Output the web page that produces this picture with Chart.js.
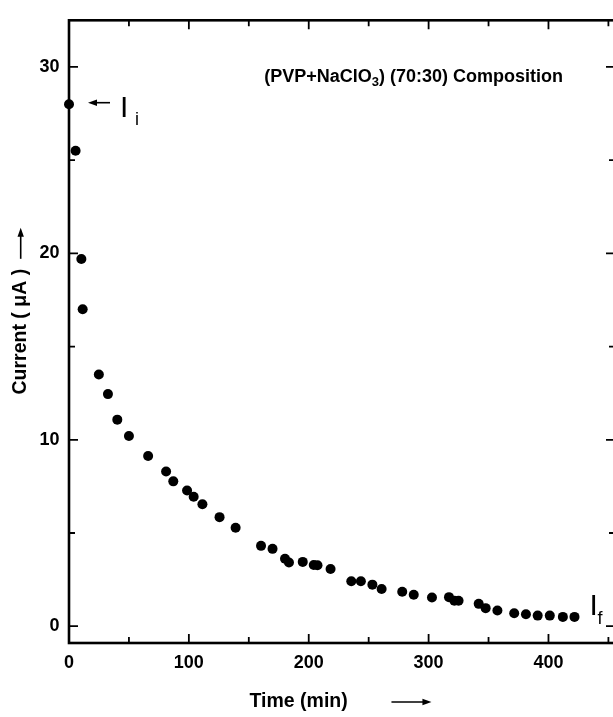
<!DOCTYPE html>
<html><head><meta charset="utf-8">
<script src="https://cdn.jsdelivr.net/npm/chart.js@4"></script>
<style>html,body{margin:0;padding:0;background:#fff;overflow:hidden;} canvas{display:block;}</style>
</head><body>
<canvas id="c" width="630" height="717"></canvas>
<script>
const timeMin = [0, 5.5, 10.3, 11.4, 24.9, 32.5, 40.3, 50, 66, 81, 87, 98.5, 104, 111.3, 125.6, 139, 160.2, 169.8, 180.2, 183.5, 195, 204.2, 207.3, 218.2, 235.5, 243.5, 253.1, 260.8, 278, 287.6, 302.8, 317, 321.5, 325, 341.8, 347.6, 357.4, 371.4, 381.2, 391, 401.1, 412, 421.7];
const currentMicroA = [28.0, 25.5, 19.7, 17.0, 13.5, 12.45, 11.08, 10.2, 9.13, 8.3, 7.77, 7.28, 6.94, 6.54, 5.85, 5.28, 4.31, 4.15, 3.62, 3.42, 3.45, 3.28, 3.27, 3.07, 2.41, 2.41, 2.23, 2.0, 1.85, 1.69, 1.54, 1.56, 1.37, 1.37, 1.2, 0.97, 0.84, 0.7, 0.64, 0.57, 0.57, 0.5, 0.5];
const xMajorTicks = [0, 100, 200, 300, 400];
const xMinorTicks = [50, 150, 250, 350, 450];
const yMajorTicks = [0, 10, 20, 30];
const yMinorTicks = [5, 15, 25];
const xTitle = 'Time (min)';
const yTitle = 'Current ( \u03bcA )';
const noteParts = ['(PVP+NaClO', '3', ') (70:30) Composition'];
const initialLabel = ['I', 'i'];
const finalLabel = ['I', 'f'];

const FAM = '"Liberation Sans", Arial, sans-serif';
const TITLE_SIZE = 19.5;
const tickFont = {family: FAM, size: 18, weight: 'bold'};
const titleFont = {family: FAM, size: TITLE_SIZE, weight: 'bold'};
const NB = '\u00a0';

function arrow(ctx, x1, y1, x2, y2) {
  const ang = Math.atan2(y2 - y1, x2 - x1);
  const hl = 9, hw = 3.2;
  ctx.save();
  ctx.strokeStyle = '#000'; ctx.fillStyle = '#000'; ctx.lineWidth = 1.6;
  ctx.beginPath();
  ctx.moveTo(x1, y1);
  ctx.lineTo(x2 - Math.cos(ang) * (hl - 2), y2 - Math.sin(ang) * (hl - 2));
  ctx.stroke();
  ctx.beginPath();
  ctx.moveTo(x2, y2);
  ctx.lineTo(x2 - Math.cos(ang) * hl - Math.sin(ang) * hw, y2 - Math.sin(ang) * hl + Math.cos(ang) * hw);
  ctx.lineTo(x2 - Math.cos(ang) * hl + Math.sin(ang) * hw, y2 - Math.sin(ang) * hl - Math.cos(ang) * hw);
  ctx.closePath();
  ctx.fill();
  ctx.restore();
}

const framePlugin = {
  id: 'frame',
  beforeDatasetsDraw(chart) {
    const {ctx, chartArea: a, scales: {x, y}} = chart;
    ctx.save();
    ctx.strokeStyle = '#000';
    ctx.lineWidth = 2.6;
    ctx.strokeRect(a.left, a.top, a.right - a.left, a.bottom - a.top);
    ctx.lineWidth = 1.8;
    ctx.beginPath();
    const tick = (vals, len) => {
      vals.forEach(v => {
        const px = x.getPixelForValue(v);
        if (px < a.left - 0.5 || px > a.right + 0.5) return;
        ctx.moveTo(px, a.bottom); ctx.lineTo(px, a.bottom - len);
        ctx.moveTo(px, a.top); ctx.lineTo(px, a.top + len);
      });
    };
    const ytick = (vals, len) => {
      vals.forEach(v => {
        const py = y.getPixelForValue(v);
        ctx.moveTo(a.left, py); ctx.lineTo(a.left + len, py);
        ctx.moveTo(a.right, py); ctx.lineTo(a.right - len, py);
      });
    };
    tick(xMajorTicks, 9); tick(xMinorTicks, 6);
    ytick(yMajorTicks, 9); ytick(yMinorTicks, 6);
    ctx.stroke();
    ctx.restore();
  },
  afterDraw(chart) {
    const {ctx, chartArea: a, scales: {x, y}} = chart;
    const pts = chart.getDatasetMeta(0).data;
    ctx.save();
    ctx.fillStyle = '#000';
    ctx.textBaseline = 'alphabetic';
    const big = 'bold 18px ' + FAM, small = 'bold 13px ' + FAM;
    ctx.font = big; const w0 = ctx.measureText(noteParts[0]).width, w2 = ctx.measureText(noteParts[2]).width;
    ctx.font = small; const w1 = ctx.measureText(noteParts[1]).width;
    const right = a.right - 52, base = 82;
    let sx = right - (w0 + w1 + w2);
    ctx.font = big; ctx.fillText(noteParts[0], sx, base); sx += w0;
    ctx.font = small; ctx.fillText(noteParts[1], sx, base + 4); sx += w1;
    ctx.font = big; ctx.fillText(noteParts[2], sx, base);
    const p0 = pts[0];
    arrow(ctx, p0.x + 41, p0.y - 1.5, p0.x + 19, p0.y - 1.5);
    ctx.font = '30px ' + FAM; ctx.fillText(initialLabel[0], p0.x + 51, p0.y + 13);
    ctx.font = '18px ' + FAM; ctx.fillText(initialLabel[1], p0.x + 66, p0.y + 21);
    const pl = pts[pts.length - 1];
    ctx.font = '30px ' + FAM; ctx.fillText(finalLabel[0], pl.x + 15, pl.y - 2);
    ctx.font = '18px ' + FAM; ctx.fillText(finalLabel[1], pl.x + 23, pl.y + 7);
    ctx.font = 'bold ' + TITLE_SIZE + 'px ' + FAM;
    const lh = TITLE_SIZE * 1.2;
    const xc = (x.left + x.right) / 2;
    const fullW = ctx.measureText(x.options.title.text).width;
    const xEnd = xc + fullW / 2 - 3;
    const xTy = x.bottom - lh / 2 - 3.3;
    arrow(ctx, xEnd - 40, xTy, xEnd, xTy);
    const yc = (y.top + y.bottom) / 2;
    const yw = ctx.measureText(yTitle).width;
    const yBot = yc - yw / 2 - 10;
    const yTx = y.left + lh / 2 + 9;
    arrow(ctx, yTx, yBot, yTx, yBot - 31);
    ctx.restore();
  }
};

new Chart(document.getElementById('c'), {
  type: 'scatter',
  data: {
    datasets: [{
      data: timeMin.map((t, i) => ({x: t, y: currentMicroA[i]})),
      pointRadius: 5, pointHoverRadius: 5,
      backgroundColor: '#000', borderColor: '#000', borderWidth: 0,
      showLine: false, clip: false
    }]
  },
  options: {
    responsive: false, animation: false, devicePixelRatio: 1,
    layout: {padding: {top: 15, right: 15, bottom: 0, left: 0}},
    plugins: {legend: {display: false}, tooltip: {enabled: false}},
    scales: {
      x: {
        type: 'linear', min: 0, max: 455.5,
        afterBuildTicks: s => { s.ticks = xMajorTicks.map(v => ({value: v})); },
        afterFit: s => { s.height = 74; },
        grid: {display: false, drawTicks: false},
        border: {display: false},
        ticks: {color: '#000', font: tickFont, padding: 9, maxRotation: 0, autoSkip: false},
        title: {display: true, text: xTitle + NB.repeat(16), color: '#000', font: titleFont, padding: {top: 0, bottom: 3.3}}
      },
      y: {
        type: 'linear', min: -0.9, max: 32.5,
        afterBuildTicks: s => { s.ticks = yMajorTicks.map(v => ({value: v})); },
        afterFit: s => { s.width = 69; },
        grid: {display: false, drawTicks: false},
        border: {display: false},
        ticks: {color: '#000', font: tickFont, padding: 9.5, autoSkip: false},
        title: {display: true, text: yTitle, color: '#000', font: titleFont, padding: {top: 9, bottom: 0}}
      }
    }
  },
  plugins: [framePlugin]
});
</script>
</body></html>
